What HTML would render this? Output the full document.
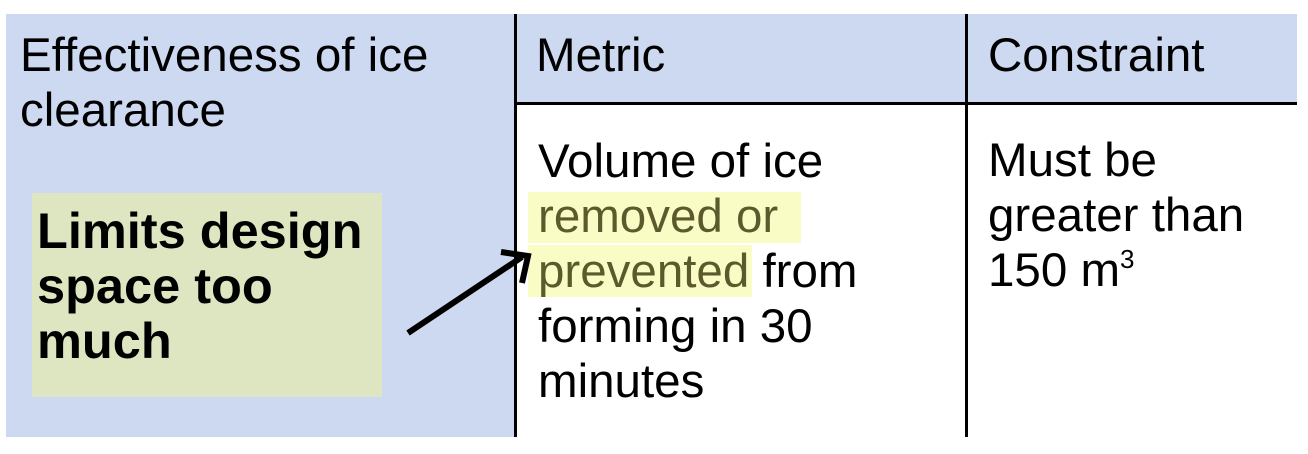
<!DOCTYPE html>
<html><head><meta charset="utf-8">
<style>
html,body{margin:0;padding:0;background:#fff;}
body{width:1308px;height:454px;position:relative;overflow:hidden;font-family:"Liberation Sans",Arial,sans-serif;color:#000;}
.a{position:absolute;}
.t{position:absolute;font-size:47.5px;line-height:55px;white-space:nowrap;}
.b{font-weight:bold;font-size:50.5px;}
</style></head><body>
<div class="a" style="left:6px;top:14px;width:509px;height:423px;background:#cdd9f0;"></div>
<div class="a" style="left:515px;top:14px;width:782px;height:90px;background:#cdd9f0;"></div>
<div class="a" style="left:515px;top:102px;width:782px;height:3px;background:#000;"></div>
<div class="a" style="left:514px;top:14px;width:3px;height:423px;background:#000;"></div>
<div class="a" style="left:965px;top:14px;width:3px;height:423px;background:#000;"></div>

<div class="t" style="left:20px;top:28px;">Effectiveness of ice<br>clearance</div>
<div class="t" style="left:536px;top:28px;">Metric</div>
<div class="t" style="left:988px;top:28px;">Constraint</div>

<div class="a" style="left:528px;top:192px;width:273px;height:51px;background:#fafcc6;"></div>
<div class="a" style="left:528px;top:245px;width:224px;height:52px;background:#fafcc6;"></div>
<div class="t" style="left:538px;top:134px;">Volume of ice<br><span style="color:#5b5a2c">removed or</span><br><span style="color:#5b5a2c">prevented</span> from<br>forming in 30<br>minutes</div>
<div class="t" style="left:988px;top:133px;">Must be<br>greater than<br>150 m<sup style="font-size:26px;vertical-align:0;position:relative;top:-18px;">3</sup></div>

<div class="a" style="left:32px;top:193px;width:350px;height:204px;background:#dde6c0;"></div>
<div class="t b" style="left:37px;top:203px;">Limits design<br>space too<br>much</div>

<svg class="a" style="left:0;top:0;" width="1308" height="454">
<line x1="408" y1="333" x2="522" y2="257" stroke="#000" stroke-width="6"/>
<polyline points="501,252 528,256 522,283" fill="none" stroke="#000" stroke-width="6"/>
</svg>
</body></html>
